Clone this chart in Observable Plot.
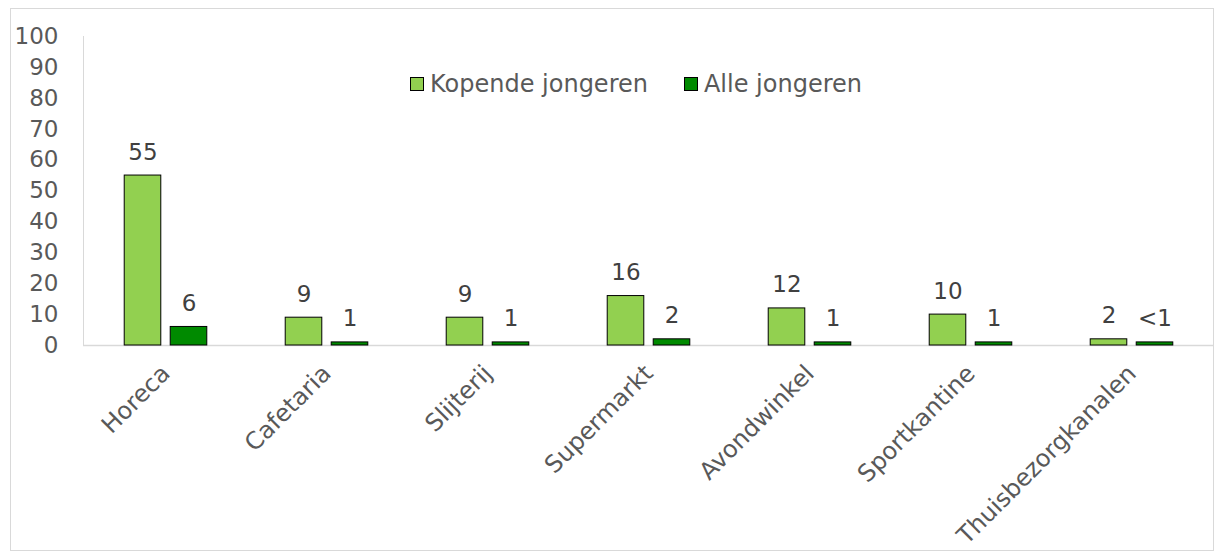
<!DOCTYPE html>
<html><head><meta charset="utf-8">
<script src="https://cdn.jsdelivr.net/npm/d3@7"></script>
<script src="https://cdn.jsdelivr.net/npm/@observablehq/plot@0.6"></script>
<style>
body{margin:0;background:#fff;font-family:"DejaVu Sans",Verdana,sans-serif;}
#wrap{position:relative;width:1215px;height:552px;overflow:hidden}
#frame{position:absolute;left:10px;top:8px;width:1204px;height:543px;border:1px solid #d9d9d9;box-sizing:border-box;pointer-events:none}
#legend{position:absolute;left:410px;top:70px;display:flex;align-items:center;font-size:24px;color:#595959;white-space:nowrap}
#legend .item{display:flex;align-items:center;margin-right:36px}
#legend .sw{width:12px;height:12px;border:1px solid #000;margin-right:6px}
</style></head>
<body>
<div id="wrap"><div id="frame"></div><div id="chart"></div><div id="legend"></div></div>
<script>
const categories = ["Horeca","Cafetaria","Slijterij","Supermarkt","Avondwinkel","Sportkantine","Thuisbezorgkanalen"];
const series = ["Kopende jongeren","Alle jongeren"];
const kopende = [55,9,9,16,12,10,2];
const alle = [6,1,1,2,1,1,1];
const kopendeLabels = ["55","9","9","16","12","10","2"];
const alleLabels = ["6","1","1","2","1","1","<1"];
const colors = ["#92D050","#008A00"];
const yTicks = [0,10,20,30,40,50,60,70,80,90,100];

const W = 1215, H = 552, mL = 83, mR = 2, mT = 36, mB = 207;
const bw = (W - mL - mR) / categories.length;
const barW = 37, gap = 9, c = bw / 2;
const lightIn = {insetLeft: c - gap/2 - barW, insetRight: bw - (c - gap/2)};
const darkIn = {insetLeft: c + gap/2, insetRight: bw - (c + gap/2 + barW)};
const lightDx = -(gap/2 + barW/2), darkDx = gap/2 + barW/2;

const rowsK = categories.map((cat,i)=>({cat, s: series[0], v: kopende[i], label: kopendeLabels[i]}));
const rowsA = categories.map((cat,i)=>({cat, s: series[1], v: alle[i], label: alleLabels[i]}));

const font = '"DejaVu Sans",Verdana,sans-serif';
const chart = Plot.plot({
  width: W, height: H, marginLeft: mL, marginRight: mR, marginTop: mT, marginBottom: mB,
  style: {fontFamily: font, fontSize: "23px", color: "#595959", background: "transparent"},
  x: {domain: categories, padding: 0, label: null},
  y: {domain: [0,100], label: null},
  color: {domain: series, range: colors},
  marks: [
    Plot.frame({anchor: "left", stroke: "#d9d9d9"}),
    Plot.ruleY([0], {stroke: "#d9d9d9", strokeWidth: 1.5}),
    Plot.axisY({ticks: yTicks, tickSize: 0, tickPadding: 25, label: null, fontSize: 23, fill: "#595959"}),
    Plot.axisX({tickRotate: -45, tickSize: 0, tickPadding: 24, label: null, fontSize: 24, fill: "#595959"}),
    Plot.barY(rowsK, {x: "cat", y: "v", fill: "s", stroke: "#000", strokeWidth: 1, ...lightIn}),
    Plot.barY(rowsA, {x: "cat", y: "v", fill: "s", stroke: "#000", strokeWidth: 1, ...darkIn}),
    Plot.text(rowsK, {x: "cat", y: "v", text: "label", dx: lightDx, dy: -16, lineAnchor: "bottom", fill: "#404040", fontSize: 23}),
    Plot.text(rowsA, {x: "cat", y: "v", text: "label", dx: darkDx, dy: -16, lineAnchor: "bottom", fill: "#404040", fontSize: 23})
  ]
});
document.getElementById("chart").appendChild(chart);

const leg = document.getElementById("legend");
series.forEach((s,i)=>{
  const it = document.createElement("div"); it.className = "item";
  const sw = document.createElement("span"); sw.className = "sw"; sw.style.background = colors[i];
  const t = document.createElement("span"); t.textContent = s;
  it.appendChild(sw); it.appendChild(t); leg.appendChild(it);
});
</script>
</body></html>
